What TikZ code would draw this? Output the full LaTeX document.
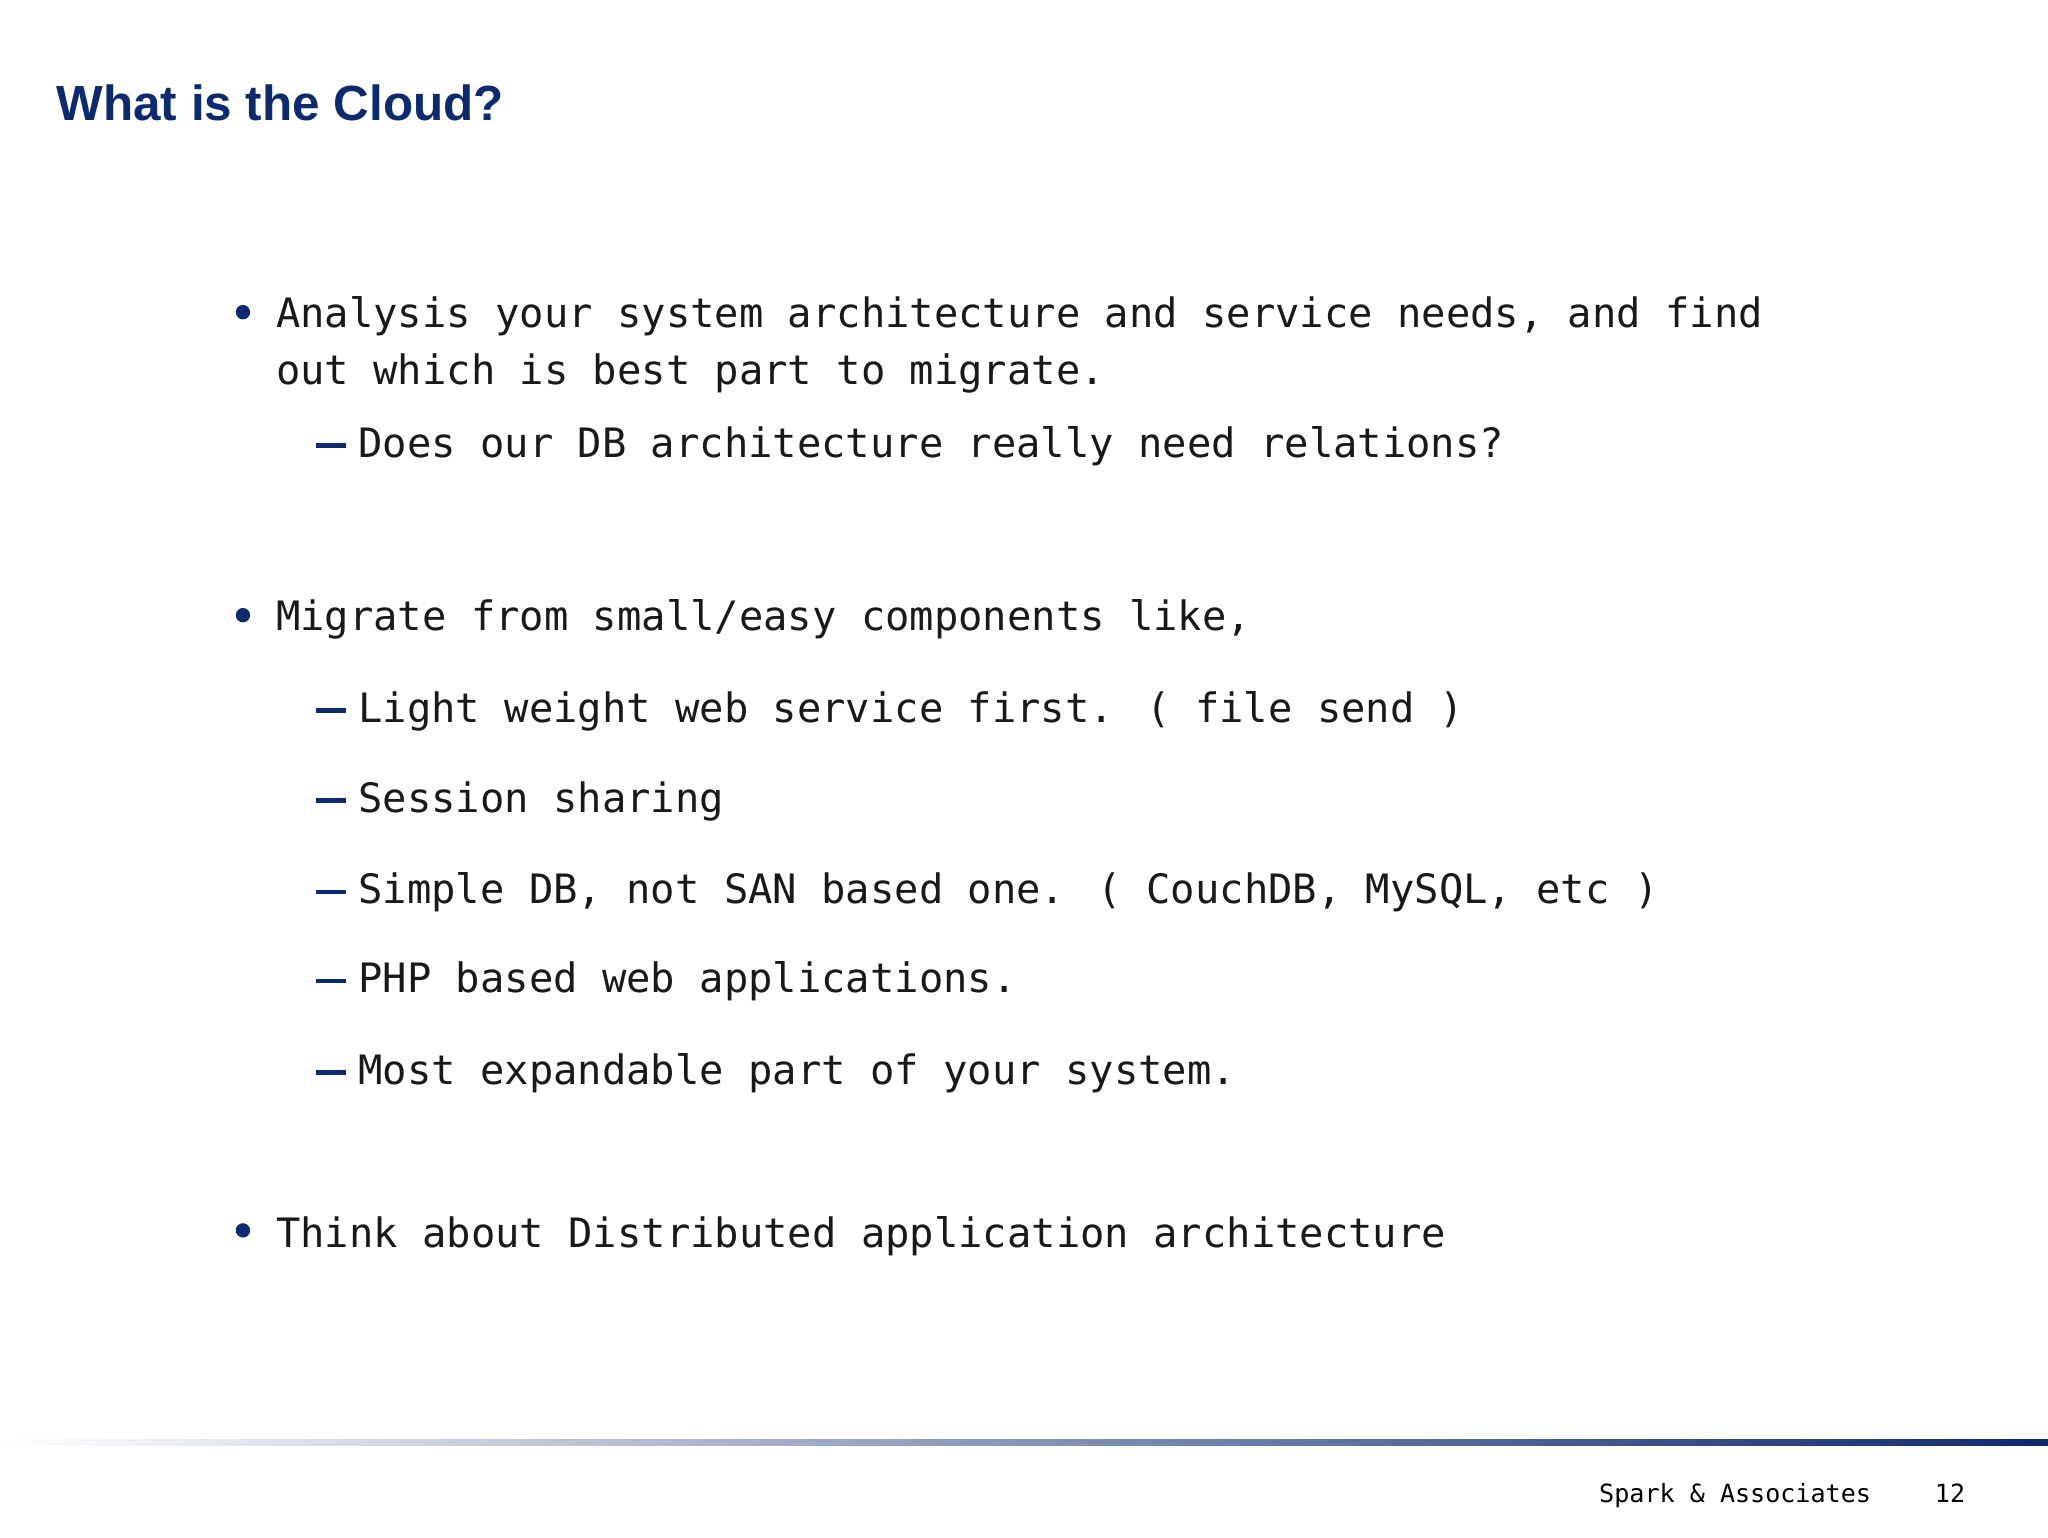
\documentclass[tikz,border=0pt]{standalone}
\usepackage{fontspec}
\setmainfont{Liberation Sans}
\newfontfamily\mono{DejaVu Sans Mono}
\definecolor{navy}{HTML}{0B2A6F}
\begin{document}
\begin{tikzpicture}[x=0.5pt,y=-0.5pt,
  body/.style={anchor=base west,inner sep=0pt,font=\mono\fontsize{15.5}{18}\selectfont,text=black!90},
  dot/.style={fill=navy,circle,inner sep=0pt,minimum size=5.5pt},
  dashmark/.style={draw=navy,line width=1.8pt}]
\useasboundingbox (0,0) rectangle (1568,1177);
\fill[white] (0,0) rectangle (1568,1177);
\node[anchor=base west,inner sep=0pt,font=\bfseries\fontsize{18.9}{22}\selectfont,text=navy] (title) at (43,92) {What is the Cloud?};
% bullets
\node[dot] (b1) at (186,239) {};
\node[body] (t1) at (211,251) {Analysis your system architecture and service needs, and find};
\node[body] (t1b) at (211,294) {out which is best part to migrate.};
\coordinate (d1) at (242,341);
\draw[dashmark] (d1) -- ++(23,0);
\node[body] (s1) at (274,350) {Does our DB architecture really need relations?};
\node[dot] (b2) at (186,471) {};
\node[body] (t2) at (211,483) {Migrate from small/easy components like,};
\foreach \y/\t [count=\i] in {553/{Light weight web service first. ( file send )},622/{Session sharing},692/{Simple DB, not SAN based one. ( CouchDB, MySQL, etc )},760/{PHP based web applications.},830/{Most expandable part of your system.}}{
  \coordinate (dd\i) at (242,\y-9);
  \draw[dashmark] (dd\i) -- ++(23,0);
  \node[body] (ss\i) at (274,\y) {\t};
}
\node[dot] (b3) at (186,942) {};
\node[body] (t3) at (211,955) {Think about Distributed application architecture};
% footer line
\shade[left color=white,right color=navy] (0,1102) rectangle (1568,1106.5);
\node[anchor=base west,inner sep=0pt,font=\mono\fontsize{9.6}{12}\selectfont] (foot) at (1224,1150) {Spark \& Associates};
\node[anchor=base west,inner sep=0pt,font=\mono\fontsize{9.6}{12}\selectfont] (pg) at (1481,1150) {12};
\end{tikzpicture}
\end{document}
